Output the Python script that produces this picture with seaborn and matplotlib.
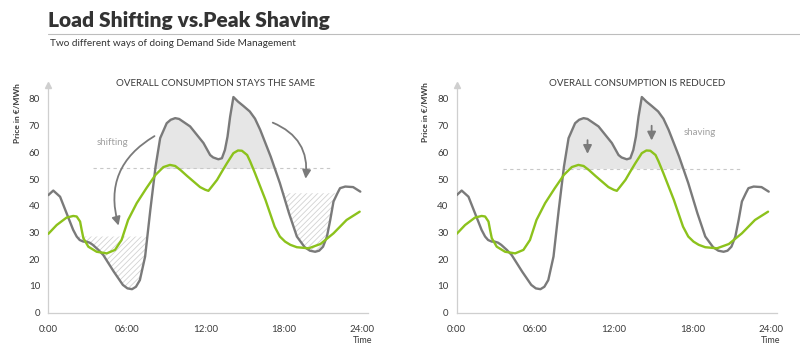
import matplotlib
matplotlib.use("Agg")
import matplotlib.pyplot as plt
import seaborn as sns
import numpy as np
import pandas as pd

# ---------------- data ----------------
hours_gray = [0.0, 0.38, 0.9, 1.4, 1.9, 2.17, 2.4, 2.68, 2.9, 3.16, 3.4, 3.83, 4.2, 5.0,
              5.7, 6.05, 6.4, 6.7, 7.0, 7.4, 7.8, 8.2, 8.55, 9.05, 9.36, 9.7, 10.0, 10.3,
              10.84, 11.35, 11.86, 12.37, 12.6, 13.0, 13.27, 13.5, 13.7, 13.9, 14.15, 14.5,
              14.9, 15.4, 15.8, 16.2, 17.0, 17.7, 18.4, 19.0, 19.6, 20.0, 20.4, 20.7, 21.0,
              21.3, 21.55, 21.8, 22.1, 22.3, 22.7, 23.3, 23.85]
price_gray = [44.0, 45.7, 43.4, 37.2, 31.0, 28.5, 27.2, 26.6, 26.6, 26.2, 25.4, 23.5, 21.6,
              15.4, 10.4, 9.1, 8.8, 9.7, 12.2, 21.0, 38.5, 54.7, 65.3, 70.9, 72.2, 72.8,
              72.5, 71.5, 69.7, 66.6, 63.5, 59.0, 58.1, 57.4, 57.8, 60.9, 65.9, 73.4, 80.7,
              79.0, 77.4, 75.3, 72.6, 68.4, 58.4, 48.5, 37.2, 28.5, 24.5, 23.2, 22.8, 23.2,
              24.7, 28.5, 34.7, 41.6, 44.7, 46.6, 47.2, 47.0, 45.3]

hours_green = [0.0, 0.64, 1.4, 1.91, 2.17, 2.43, 2.55, 2.68, 3.06, 3.7, 4.47, 5.1, 5.6, 6.1,
               6.76, 7.5, 8.2, 8.8, 9.3, 9.7, 10.1, 10.6, 11.1, 11.6, 12.0, 12.24, 12.5,
               12.9, 13.27, 13.65, 14.15, 14.5, 14.8, 15.2, 15.43, 15.8, 16.2, 16.6, 17.3,
               17.7, 18.1, 18.5, 19.0, 19.9, 20.8, 21.8, 22.8, 23.8]
price_green = [29.5, 32.8, 35.6, 36.2, 36.0, 34.1, 31.0, 27.9, 24.7, 22.8, 22.2, 23.5, 27.2,
               34.7, 41.0, 46.6, 51.6, 54.5, 55.3, 54.9, 53.4, 51.2, 49.1, 47.0, 46.0, 45.6,
               47.2, 49.7, 52.8, 55.9, 59.7, 60.7, 60.6, 59.0, 56.6, 52.2, 47.2, 42.2, 32.2,
               28.5, 26.6, 25.4, 24.5, 24.1, 25.7, 29.7, 34.7, 37.8]

peak_level = 54.0            # dashed target line
shift_levels = [28.5, 44.7]  # hatched "valley" fill levels (left panel)

tick_hours = [0, 6, 12, 18, 24]
tick_labels = ["0:00", "06:00", "12:00", "18:00", "24:00"]
ytick_vals = [0, 10, 20, 30, 40, 50, 60, 70, 80]

panel_titles = ["OVERALL CONSUMPTION STAYS THE SAME", "OVERALL CONSUMPTION IS REDUCED"]
main_title = "Load Shifting vs.Peak Shaving"
subtitle = "Two different ways of doing Demand Side Management"

# ---------------- style ----------------
sns.set_style("white")
plt.rcParams["font.family"] = ["Lato", "DejaVu Sans"]
plt.rcParams["hatch.color"] = "#cccccc"
plt.rcParams["hatch.linewidth"] = 0.6

GRAY = "#7a7a7a"
GREEN = "#8cc21c"
AXC = "#cfcfcf"
TXT = "#3a3a3a"

df_gray = pd.DataFrame({"hour": hours_gray, "price": price_gray})
df_green = pd.DataFrame({"hour": hours_green, "price": price_green})
hg = np.array(hours_gray)
pg = np.array(price_gray)

W, H = 800, 355
fig = plt.figure(figsize=(8, 3.55), dpi=100)

def px(x, y, w, h):
    return [x / W, (H - y - h) / H, w / W, h / H]

ax_top_px = 85
ax_bot_px = 312.7
ax1 = fig.add_axes(px(48.3, ax_top_px, 320, ax_bot_px - ax_top_px))
ax2 = fig.add_axes(px(456.7, ax_top_px, 320, ax_bot_px - ax_top_px))

for i, ax in enumerate([ax1, ax2]):
    ax.fill_between(hg, pg, peak_level, where=pg > peak_level, interpolate=True,
                    color="#e6e6e6", linewidth=0, zorder=1)
    if i == 0:
        ax.plot([3.45, 21.55], [peak_level, peak_level], ls=(0, (3, 3)), color="#c8c8c8",
                lw=0.8, zorder=1.5)
    else:
        ax.plot([3.57, 21.7], [peak_level - 0.4, peak_level - 0.4], ls=(0, (3, 3)),
                color="#c8c8c8", lw=0.8, zorder=1.5)
    if i == 0:
        m1 = (hg >= 2.4) & (hg <= 8.0)
        ax.fill_between(hg, pg, shift_levels[0], where=m1 & (pg < shift_levels[0]),
                        interpolate=True, facecolor="none", hatch="//////",
                        edgecolor="#d2d2d2", linewidth=0, zorder=1)
        m2 = (hg >= 18.0) & (hg <= 22.2)
        ax.fill_between(hg, pg, shift_levels[1], where=m2 & (pg < shift_levels[1]),
                        interpolate=True, facecolor="none", hatch="//////",
                        edgecolor="#d2d2d2", linewidth=0, zorder=1)

    sns.lineplot(data=df_gray, x="hour", y="price", ax=ax, color=GRAY, lw=1.7,
                 sort=False, zorder=3)
    sns.lineplot(data=df_green, x="hour", y="price", ax=ax, color=GREEN, lw=1.7,
                 sort=False, zorder=4)
    for ln in ax.lines:
        ln.set_solid_joinstyle("round")

    ax.set_xlim(0, 24.46)
    ax.set_ylim(0, 85.2)
    ax.set_xlabel("")
    ax.set_ylabel("")
    for s in ["top", "right"]:
        ax.spines[s].set_visible(False)
    for s in ["left", "bottom"]:
        ax.spines[s].set_color(AXC)
        ax.spines[s].set_linewidth(0.9)
    ax.set_xticks(tick_hours)
    ax.set_xticklabels(tick_labels)
    ax.set_xticks(range(1, 25), minor=True)
    ax.tick_params(axis="x", which="major", direction="inout", length=6, width=0.8,
                   color=AXC, labelsize=7, labelcolor=TXT, pad=6)
    ax.tick_params(axis="x", which="minor", direction="inout", length=4, width=0.8,
                   color=AXC)
    ax.set_yticks(ytick_vals)
    ax.tick_params(axis="y", which="major", length=0, labelsize=7, labelcolor=TXT, pad=6)
    ax.plot([0], [85.2], marker="^", ms=4, color=AXC, clip_on=False, zorder=5)
    ax.text(24.0, -10.3, "Time", ha="center", va="center", fontsize=6.5, color=TXT)

arrow_kw = dict(arrowstyle="-|>,head_length=0.5,head_width=0.25", color=GRAY, lw=1.3)
ax1.annotate("", xy=(5.43, 31.6), xytext=(8.3, 66.6),
             arrowprops=dict(connectionstyle="arc3,rad=0.4", **arrow_kw))
ax1.annotate("", xy=(19.64, 49.1), xytext=(16.96, 71.5),
             arrowprops=dict(connectionstyle="arc3,rad=-0.4", **arrow_kw))
ax1.text(4.94, 63.8, "shifting", ha="center", va="center", fontsize=7, color="#a0a0a0")

ax2.annotate("", xy=(10.0, 58.4), xytext=(10.0, 65.6), arrowprops=arrow_kw)
ax2.annotate("", xy=(14.9, 63.4), xytext=(14.9, 71.0), arrowprops=arrow_kw)
ax2.text(18.6, 67.6, "shaving", ha="center", va="center", fontsize=7, color="#a0a0a0")

fig.text(216 / W, 1 - 83 / H, panel_titles[0], ha="center", va="center", fontsize=7,
         color=TXT)
fig.text(637 / W, 1 - 83 / H, panel_titles[1], ha="center", va="center", fontsize=7,
         color=TXT)
fig.text(18 / W, 1 - 113 / H, "Price in €/MWh", rotation=90, ha="center", va="center",
         fontsize=6, fontweight="bold", color=TXT)
fig.text(425 / W, 1 - 112 / H, "Price in €/MWh", rotation=90, ha="center", va="center",
         fontsize=6, fontweight="bold", color=TXT)

fig.text(48 / W, 1 - 20 / H, main_title, ha="left", va="center", fontsize=15,
         fontweight="heavy", color="#333333")
fig.add_artist(plt.Line2D([48 / W, 1.0], [1 - 33.5 / H, 1 - 33.5 / H], color="#bdbdbd",
                          lw=0.8))
fig.text(50 / W, 1 - 44 / H, subtitle, ha="left", va="center", fontsize=7.2,
         color="#333333")

fig.savefig("out.png", dpi=100)
